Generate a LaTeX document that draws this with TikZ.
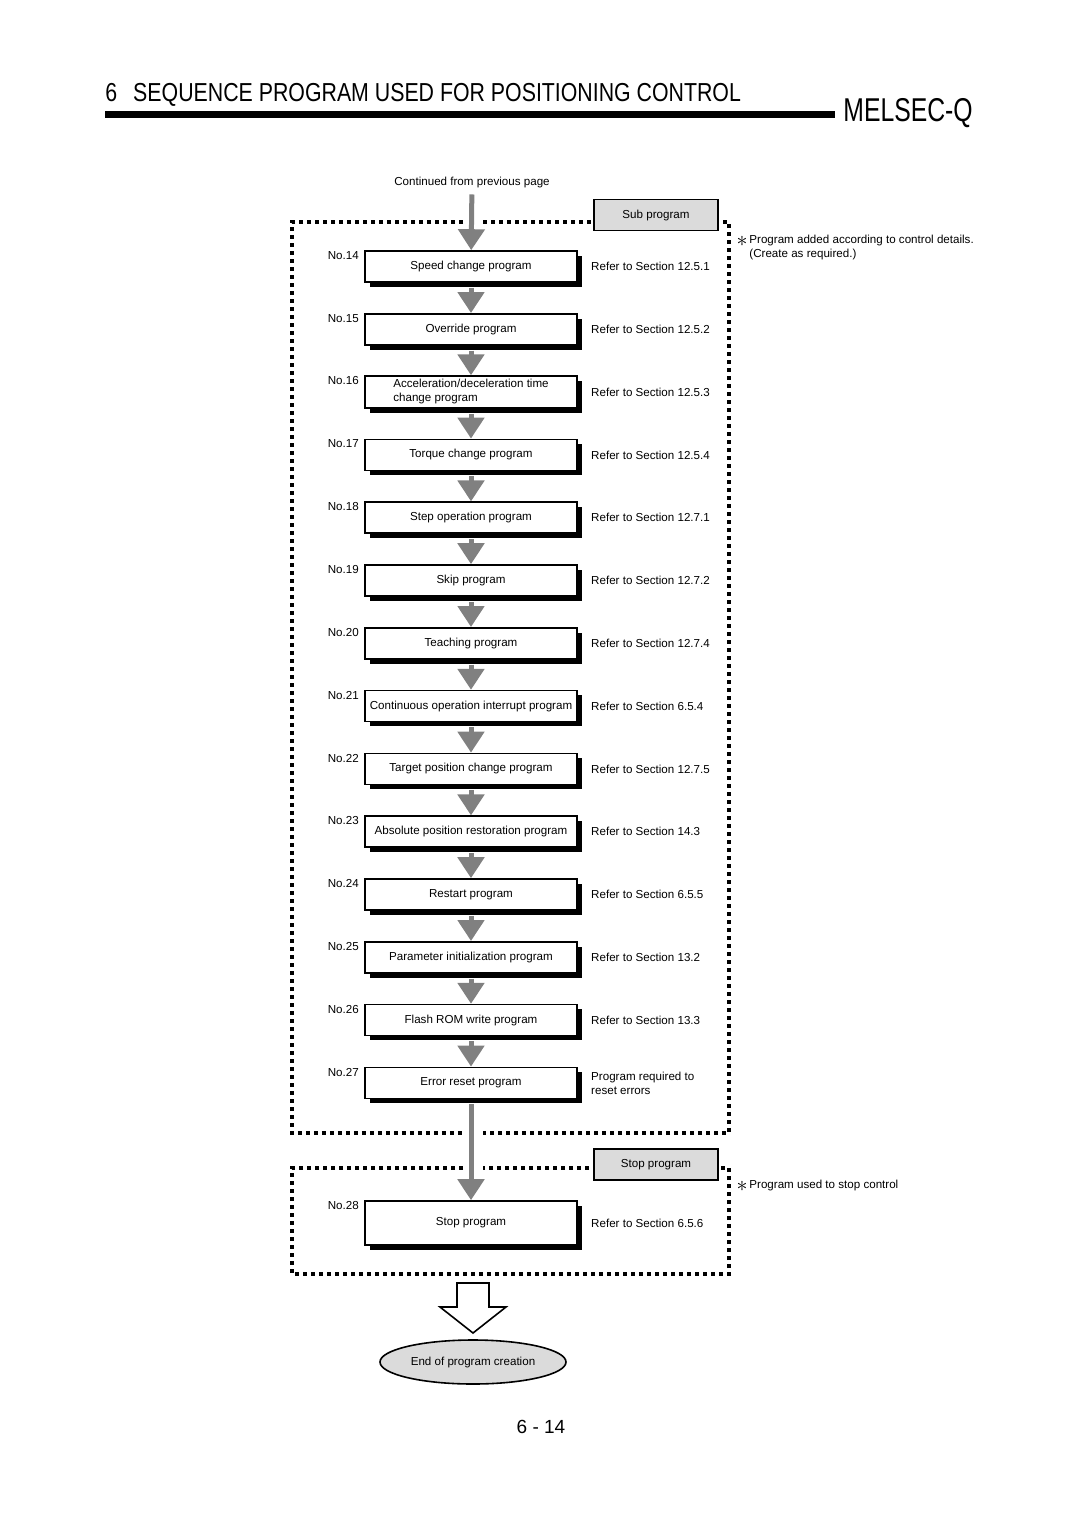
\documentclass[tikz,border=0pt]{standalone}
\usepackage{fontspec}
\setmainfont{Liberation Sans}
\newfontfamily\headfont[FakeStretch=0.82]{Liberation Sans}
\newfontfamily\melsecfont[FakeStretch=0.75]{Liberation Sans}
\usetikzlibrary{arrows.meta,shapes.geometric,shadows}

\tikzset{
 prog/.style={draw, line width=0.8pt, fill=white, minimum width=106pt, minimum height=15.5pt, inner sep=1pt, align=center,
   drop shadow={shadow xshift=2.4pt, shadow yshift=-2.4pt, opacity=1, fill=black}},
 tagbox/.style={draw, line width=0.8pt, fill=black!14, minimum width=62pt, minimum height=15.5pt, inner sep=0pt},
 flow/.style={draw=black!50, line width=2.5pt, -{Triangle[width=13pt,length=10.5pt]}},
 dotframe/.style={line width=1.8pt, dash pattern=on 1.8pt off 2.2pt},
 refer/.style={anchor=west, inner sep=0pt, align=left},
}

\begin{document}
\begin{tikzpicture}[x=0.5pt, y=-0.5pt, font=\fontsize{5.8}{7}\selectfont]
 \fill[white] (0,0) rectangle (1080,1528); % 背景

 % 見出し
 \node[anchor=base west, inner sep=0pt] (title) at (105,101) {\headfont\fontsize{13}{15}\selectfont 6\hspace{8pt}SEQUENCE PROGRAM USED FOR POSITIONING CONTROL};
 \fill (105,111) rectangle (835,118);
 \node[anchor=base west, inner sep=0pt] (melsec) at (843,121) {\melsecfont\fontsize{16.5}{18}\selectfont MELSEC-Q};

 % 点線の枠
 \draw[dotframe] (463,222) -| (292,1133) -- (463,1133);
 \draw[dotframe] (483,222) -- (729,222) |- (483,1133);
 \draw[dotframe] (463,1168) -| (292,1274) -| (729,1168) -- (483,1168);

 \node[tagbox] (sub) at (656,215) {Sub program};
 \node[tagbox] (stop) at (656,1164.5) {Stop program};
 \node[inner sep=0pt] at (742,241) {\fontsize{11}{11}\selectfont$\ast$};
 \node[anchor=north west, inner sep=0pt, align=left] (note1) at (749,235) {Program added according to control details.\\(Create as required.)};
 \node[inner sep=0pt] at (742,1186) {\fontsize{11}{11}\selectfont$\ast$};
 \node[anchor=west, inner sep=0pt] (note2) at (749,1185) {Program used to stop control};

 \node (cont) at (472,182) {Continued from previous page};

 % プログラム No.14〜No.27
 \foreach \n/\txt/\sec [count=\i from 0] in {
   14/{Speed change program}/{Refer to Section 12.5.1},
   15/{Override program}/{Refer to Section 12.5.2},
   16/{\begin{tabular}{@{}l@{}}Acceleration/deceleration time\\change program\end{tabular}}/{Refer to Section 12.5.3},
   17/{Torque change program}/{Refer to Section 12.5.4},
   18/{Step operation program}/{Refer to Section 12.7.1},
   19/{Skip program}/{Refer to Section 12.7.2},
   20/{Teaching program}/{Refer to Section 12.7.4},
   21/{Continuous operation interrupt program}/{Refer to Section 6.5.4},
   22/{Target position change program}/{Refer to Section 12.7.5},
   23/{Absolute position restoration program}/{Refer to Section 14.3},
   24/{Restart program}/{Refer to Section 6.5.5},
   25/{Parameter initialization program}/{Refer to Section 13.2},
   26/{Flash ROM write program}/{Refer to Section 13.3},
   27/{Error reset program}/{Program required to\\reset errors}} {
  \node[prog] (p\n) at (471,{266.5+62.8*\i}) {\txt};
  \node[anchor=north east, inner sep=0pt] (n\n) at ([xshift=-2.5pt,yshift=-0.5pt]p\n.north west) {No.\n};
  \node[refer] (r\n) at ([xshift=6.5pt]p\n.east) {\sec};
  \ifnum\i>0
   \pgfmathtruncatemacro\prev{\n-1}
   \draw[flow, shorten <=2.5pt] (p\prev) -- (p\n);
  \fi
 }
 \draw[flow] (cont) -- (p14);

 % 停止プログラム
 \node[prog, minimum height=22pt] (p28) at (471,1223) {Stop program};
 \node[anchor=north east, inner sep=0pt] (n28) at ([xshift=-2.5pt,yshift=-0.5pt]p28.north west) {No.28};
 \node[refer] (r28) at ([xshift=6.5pt]p28.east) {Refer to Section 6.5.6};
 \draw[flow, shorten <=2.5pt] (p27) -- (p28);

 % 終了
 \node[ellipse, draw, line width=0.8pt, fill=black!14, inner sep=0pt, minimum width=93pt, minimum height=22pt] (fin) at (473,1362) {End of program creation};
 \draw[line width=0.8pt, fill=white] (457,1283) -- (489,1283) -- (489,1307) -- (506,1307) -- (473,1333) -- (440,1307) -- (457,1307) -- cycle;

 \node (page) at (541,1427) {\fontsize{9.5}{11}\selectfont 6 - 14};
\end{tikzpicture}
\end{document}
